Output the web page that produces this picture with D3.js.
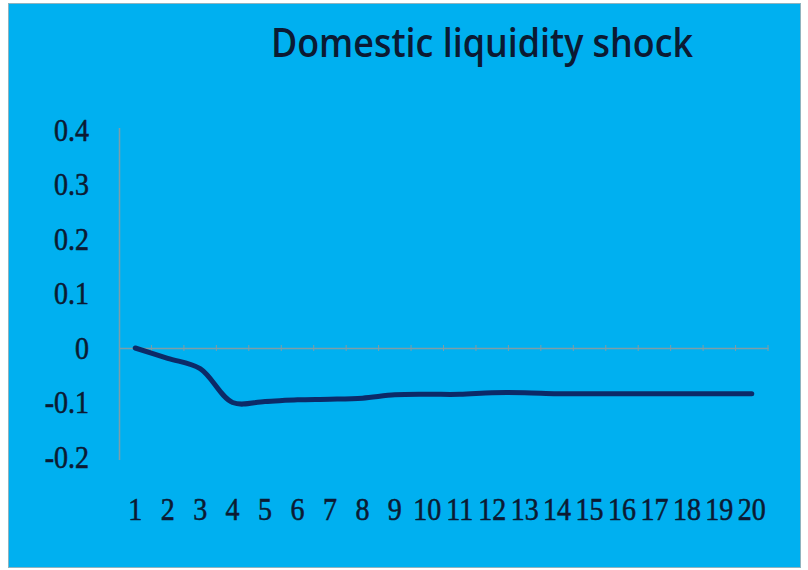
<!DOCTYPE html>
<html>
<head>
<meta charset="utf-8">
<script src="https://cdn.jsdelivr.net/npm/d3@7"></script>
<style>
  html, body { margin: 0; padding: 0; background: #ffffff; }
  svg { display: block; }
</style>
</head>
<body>
<svg id="chart" width="808" height="570"></svg>
<script>
// Impulse response over 20 periods
const periods = ["1","2","3","4","5","6","7","8","9","10","11","12","13","14","15","16","17","18","19","20"];
const response = [0, -0.019, -0.038, -0.1, -0.098, -0.095, -0.094, -0.092, -0.086, -0.085,
                  -0.085, -0.082, -0.082, -0.084, -0.084, -0.084, -0.084, -0.084, -0.084, -0.084];
const yTicks = [-0.2, -0.1, 0, 0.1, 0.2, 0.3, 0.4];
const yTickLabels = ["-0.2", "-0.1", "0", "0.1", "0.2", "0.3", "0.4"];
const chartTitle = "Domestic liquidity shock";

const svg = d3.select("#chart");
const textColor = "#0b1a33";

// chart area
svg.append("rect")
  .attr("x", 8.5).attr("y", 3.5)
  .attr("width", 792).attr("height", 564)
  .attr("fill", "#00b0f0")
  .attr("stroke", "#8fb3bf")
  .attr("stroke-width", 1);

svg.append("text")
  .attr("x", 482).attr("y", 57)
  .attr("text-anchor", "middle")
  .attr("font-family", "'Open Sans', 'Noto Sans', sans-serif")
  .attr("font-size", 39)
  .attr("font-weight", 600)
  .attr("textLength", 422)
  .attr("lengthAdjust", "spacingAndGlyphs")
  .attr("fill", textColor)
  .text(chartTitle);

const x = d3.scaleBand().domain(periods).range([119, 768]);
const y = d3.scaleLinear().domain([-0.2, 0.4]).range([457, 130]);

const axisColor = "#7d9ea8";

// y axis line
svg.append("line")
  .attr("x1", 119.5).attr("x2", 119.5)
  .attr("y1", y(0.4) - 2).attr("y2", y(-0.2) + 3)
  .attr("stroke", axisColor).attr("stroke-width", 1.5);

// x axis at zero with ticks at category boundaries
const xAxis = d3.axisBottom(x).tickSize(0).tickFormat("");
const gx = svg.append("g").attr("transform", `translate(0,${y(0)})`).call(xAxis);
gx.select(".domain").attr("stroke", axisColor).attr("stroke-width", 1.5);
gx.selectAll(".tick").remove();
gx.selectAll("line.bound")
  .data(periods)
  .enter().append("line")
  .attr("class", "bound")
  .attr("x1", d => x(d) + x.bandwidth())
  .attr("x2", d => x(d) + x.bandwidth())
  .attr("y1", -3).attr("y2", 3)
  .attr("stroke", axisColor).attr("stroke-width", 1);

// y tick labels (slightly tall serif digits)
svg.append("g").selectAll("text")
  .data(yTicks)
  .enter().append("text")
  .attr("transform", d => `translate(89,${y(d)}) scale(1,1.12)`)
  .attr("dy", "0.35em")
  .attr("text-anchor", "end")
  .attr("font-family", "'Liberation Serif', serif")
  .attr("font-size", 28)
  .attr("fill", textColor)
  .attr("stroke", textColor)
  .attr("stroke-width", 0.5)
  .text((d, i) => yTickLabels[i]);

// x tick labels
svg.append("g").selectAll("text")
  .data(periods)
  .enter().append("text")
  .attr("transform", d => `translate(${x(d) + x.bandwidth() / 2},520) scale(1,1.12)`)
  .attr("text-anchor", "middle")
  .attr("font-family", "'Liberation Serif', serif")
  .attr("font-size", 28)
  .attr("fill", textColor)
  .attr("stroke", textColor)
  .attr("stroke-width", 0.5)
  .text(d => d);

// smoothed response line
const line = d3.line()
  .x((d, i) => x(periods[i]) + x.bandwidth() / 2)
  .y(d => y(d))
  .curve(d3.curveCatmullRom.alpha(0.5));

svg.append("path")
  .datum(response)
  .attr("d", line)
  .attr("fill", "none")
  .attr("stroke", "#0c2a68")
  .attr("stroke-width", 5)
  .attr("stroke-linecap", "round");
</script>
</body>
</html>
